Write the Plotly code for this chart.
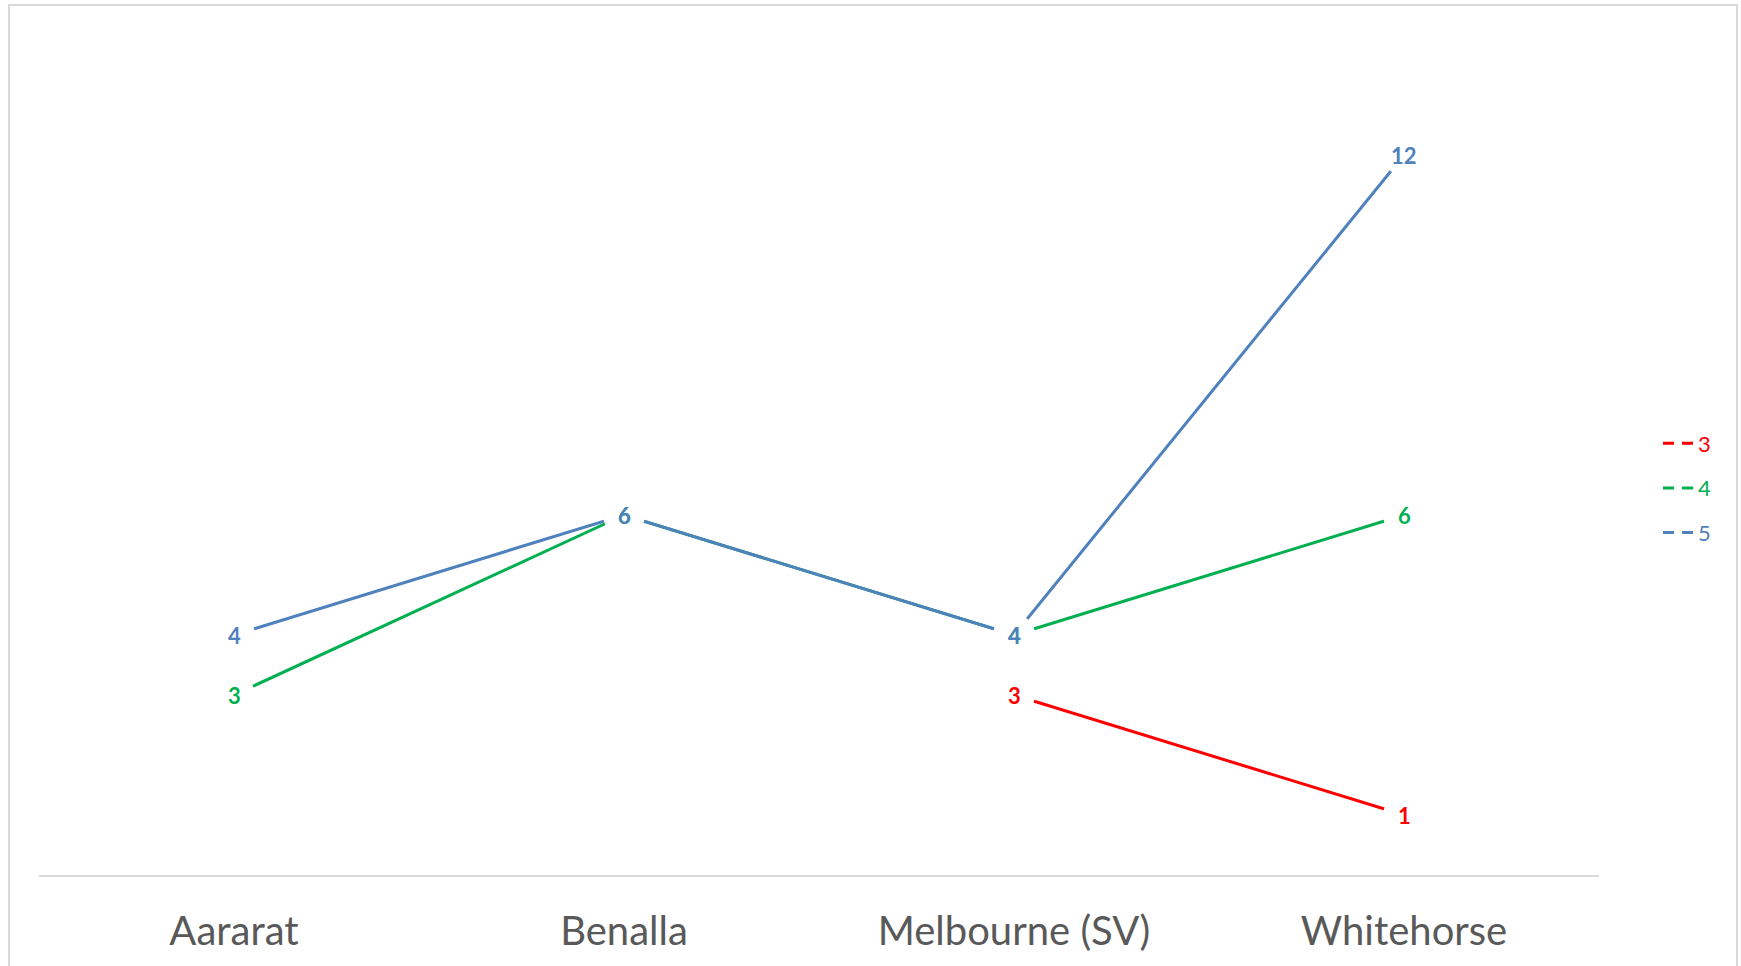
import plotly.graph_objects as go

categories = ["Aararat", "Benalla", "Melbourne (SV)", "Whitehorse"]
series_names = ["3", "4", "5"]
series_values = {
    "3": [None, None, 3, 1],
    "4": [3, 6, 4, 6],
    "5": [4, 6, 4, 12],
}
colors = {"3": "#FF0000", "4": "#00B050", "5": "#4F81BD"}

W, H = 1741, 966
ML, MR, MT, MB = 39, 142, 35, 91
pw, ph = W - ML - MR, H - MT - MB

fig = go.Figure()
annotations = []
for name in series_names:
    vals = series_values[name]
    fig.add_trace(go.Scatter(
        x=categories, y=vals, mode="lines+markers",
        line=dict(color=colors[name], width=3),
        marker=dict(size=42, color="white", line=dict(width=0)),
        showlegend=False, cliponaxis=False, connectgaps=False,
        hoverinfo="skip",
    ))
    for cat, v in zip(categories, vals):
        if v is None:
            continue
        annotations.append(dict(
            x=cat, y=v, xref="x", yref="y", text=f"<b>{v}</b>", showarrow=False,
            xanchor="center", yanchor="middle", yshift=0,
            font=dict(family="Lato", size=22, color=colors[name]),
        ))
for name in series_names:
    fig.add_trace(go.Scatter(
        x=[None], y=[None], mode="lines",
        name=f'<span style="color:{colors[name]}">{name}</span>', legendgroup=name,
        line=dict(color=colors[name], width=3, dash="11px,8px"),
    ))

fig.update_layout(
    width=W, height=H,
    margin=dict(l=ML, r=MR, t=MT, b=MB),
    paper_bgcolor="white", plot_bgcolor="white",
    xaxis=dict(range=[-0.5, 3.5], showgrid=False, showline=True, linecolor="#D9D9D9", linewidth=2,
               ticks="outside", ticklen=20, tickcolor="rgba(0,0,0,0)",
               tickfont=dict(family="Lato", size=40, color="#595959"),
               zeroline=False, fixedrange=True),
    yaxis=dict(range=[0, 14], showgrid=False, showline=False, showticklabels=False,
               zeroline=False, fixedrange=True),
    legend=dict(x=(1658 - ML) / pw, xanchor="left", y=(H - MB - 488) / ph, yanchor="middle",
                font=dict(family="Lato", size=22), tracegroupgap=13,
                bgcolor="rgba(0,0,0,0)"),
    annotations=annotations,
    shapes=[dict(type="rect", xref="paper", yref="paper",
                 x0=(9 - ML) / pw, x1=(1737 - ML) / pw,
                 y0=(H - MB - 975) / ph, y1=(H - MB - 5) / ph,
                 line=dict(color="#D9D9D9", width=2), fillcolor="rgba(0,0,0,0)", layer="below")],
)

fig.write_html("out.html", config={"displayModeBar": False},
               post_script="document.body.style.margin='0';")
